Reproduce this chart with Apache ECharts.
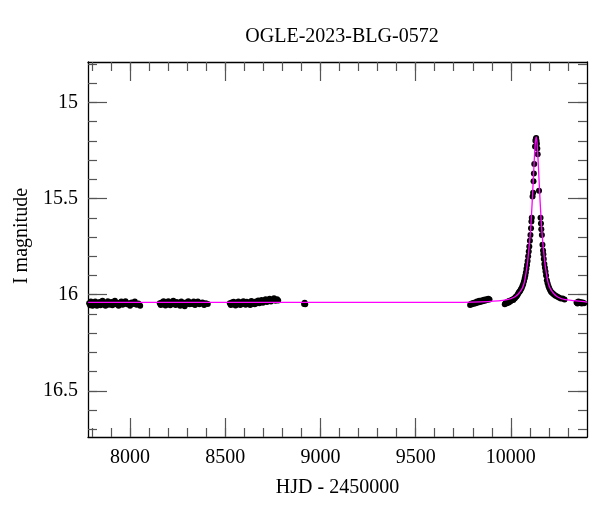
<!DOCTYPE html>
<html>
<head>
<meta charset="utf-8">
<script src="https://cdn.jsdelivr.net/npm/echarts@6/dist/echarts.min.js"></script>
<style>html,body{margin:0;padding:0;background:#fff}#c{width:600px;height:512px}</style>
</head>
<body>
<div id="c"></div>
<script>
// ---- data (HJD-2450000, I mag) ----
var season1 = [[7785,16.045],[7790,16.055],[7794,16.036],[7799,16.05],[7803,16.058],[7808,16.042],[7812,16.052],[7817,16.035],[7821,16.048],[7826,16.058],[7830,16.044],[7835,16.05],[7840,16.038],[7845,16.055],[7850,16.046],[7855,16.032],[7860,16.05],[7866,16.043],[7871,16.057],[7877,16.047],[7883,16.034],[7889,16.052],[7895,16.045],[7901,16.038],[7907,16.055],[7913,16.048],[7920,16.032],[7926,16.05],[7933,16.042],[7940,16.058],[7947,16.045],[7954,16.036],[7961,16.052],[7968,16.043],[7976,16.034],[7984,16.05],[7992,16.045],[8000,16.058],[8008,16.04],[8016,16.048],[8025,16.036],[8034,16.052],[8044,16.046],[8053,16.057]];
var season2 = [[8156,16.045],[8161,16.054],[8166,16.04],[8171,16.05],[8176,16.034],[8181,16.047],[8186,16.056],[8191,16.042],[8196,16.05],[8201,16.034],[8206,16.046],[8211,16.055],[8216,16.04],[8221,16.048],[8227,16.032],[8233,16.045],[8239,16.053],[8245,16.038],[8251,16.047],[8257,16.043],[8263,16.057],[8269,16.035],[8275,16.05],[8281,16.044],[8287,16.06],[8293,16.04],[8299,16.047],[8306,16.034],[8313,16.05],[8320,16.042],[8327,16.048],[8334,16.036],[8341,16.053],[8348,16.043],[8356,16.035],[8364,16.05],[8372,16.045],[8380,16.04],[8389,16.053],[8398,16.044],[8408,16.048]];
var season3 = [[8524,16.045],[8529,16.053],[8534,16.04],[8539,16.05],[8544,16.037],[8549,16.047],[8554,16.056],[8559,16.042],[8564,16.05],[8569,16.035],[8574,16.046],[8579,16.054],[8584,16.04],[8589,16.048],[8595,16.034],[8601,16.045],[8607,16.052],[8613,16.037],[8619,16.046],[8625,16.042],[8631,16.053],[8637,16.033],[8643,16.047],[8649,16.04],[8655,16.05],[8661,16.035],[8667,16.044],[8673,16.03],[8679,16.045],[8685,16.037],[8691,16.027],[8698,16.042],[8705,16.031],[8712,16.024],[8719,16.038],[8726,16.029],[8733,16.021],[8740,16.035],[8748,16.027],[8756,16.019],[8764,16.032],[8772,16.024],[8778,16.03]];
var season4 = [[8914,16.048],[8917,16.042],[8920,16.05]];
var season5 = [[9786,16.053],[9791,16.047],[9796,16.05],[9801,16.043],[9806,16.047],[9811,16.04],[9816,16.044],[9822,16.036],[9828,16.041],[9834,16.032],[9840,16.038],[9846,16.03],[9852,16.034],[9858,16.026],[9864,16.031],[9870,16.024],[9876,16.028],[9882,16.021],[9888,16.025]];
var season6 = [[9968,16.05],[9972,16.045],[9976,16.04],[9980,16.044],[9985,16.035],[9989,16.04],[9993,16.032],[9997,16.036],[10001,16.03],[10005,16.028],[10009,16.025],[10013,16.027],[10017,16.02],[10021,16.018],[10025,16.012],[10029,16.01],[10033,16.004],[10037,15.998],[10041,15.99],[10045,15.985],[10049,15.98],[10053,15.972],[10057,15.965],[10061,15.955],[10065,15.945],[10069,15.93],[10073,15.915],[10076,15.9],[10079,15.885],[10082,15.865],[10085,15.845],[10088,15.825],[10091,15.8],[10094,15.775],[10097,15.75],[10100,15.72],[10103,15.69],[10106,15.655],[10108,15.62],[10110,15.6],[10114,15.49],[10117,15.47],[10119,15.41],[10121,15.37],[10123,15.32],[10127,15.23],[10129,15.2],[10131,15.19],[10133,15.185],[10135,15.2],[10137,15.215],[10139,15.24],[10141,15.27],[10148,15.46],[10156,15.6],[10158,15.63],[10160,15.66],[10163,15.69],[10166,15.74],[10169,15.77],[10171,15.79],[10173,15.815],[10176,15.84],[10179,15.86],[10182,15.88],[10185,15.9],[10189,15.925],[10193,15.94],[10197,15.955],[10201,15.965],[10206,15.975],[10211,15.985],[10216,15.99],[10222,15.995],[10228,16.0],[10235,16.005],[10243,16.01],[10252,16.015],[10262,16.02],[10272,16.02],[10282,16.025],[10345,16.04],[10350,16.046],[10355,16.035],[10360,16.043],[10366,16.038],[10372,16.046],[10378,16.04],[10385,16.044]];
var model = [[7780,16.04],[9700,16.04],[9880,16.036],[9980,16.026],[10020,16.012],[10040,15.995],[10055,15.975],[10065,15.955],[10073,15.925],[10080,15.885],[10088,15.83],[10093,15.78],[10098,15.73],[10103,15.67],[10107,15.61],[10112,15.52],[10116,15.44],[10120,15.36],[10124,15.28],[10128,15.215],[10131,15.19],[10133,15.18],[10135,15.19],[10138,15.215],[10142,15.28],[10146,15.36],[10150,15.44],[10154,15.52],[10159,15.61],[10163,15.67],[10168,15.73],[10173,15.78],[10178,15.83],[10186,15.885],[10193,15.925],[10201,15.955],[10211,15.975],[10226,15.995],[10246,16.012],[10286,16.026],[10386,16.036],[10400,16.04]];
var xMajor = [8000, 8500, 9000, 9500, 10000];
var yMajor = [15, 15.5, 16, 16.5];
var titleText = 'OGLE-2023-BLG-0572';
var xName = 'HJD - 2450000';
var yName = 'I magnitude';

// ---- ticks ----
var xMinor = [];
for (var v = 7800; v <= 10300; v += 100) xMinor.push(v);
var yMinor = [];
for (var k = 148; k <= 167; k++) yMinor.push(k / 10);

var XMIN = 7779, XMAX = 10400, YMIN = 14.79, YMAX = 16.74;
var FONT = 'Liberation Serif';
var FS = 20;
var tickCol = '#555';

function xAx(pos, vals, len, showLine, labels) {
  return {
    type: 'value', position: pos, min: XMIN, max: XMAX,
    axisLine: { show: showLine, onZero: false, lineStyle: { color: '#000', width: 1.3 } },
    axisTick: { show: true, inside: true, length: len, customValues: vals, lineStyle: { color: tickCol, width: 1.2 } },
    axisLabel: labels ? { show: true, customValues: xMajor, formatter: function (v) { return String(v); },
      color: '#000', fontFamily: FONT, fontSize: FS, margin: 11 } : { show: false },
    splitLine: { show: false },
    name: labels ? xName : '', nameLocation: 'middle', nameGap: 41,
    nameTextStyle: { color: '#000', fontFamily: FONT, fontSize: FS }
  };
}
function yAx(pos, vals, len, showLine, labels) {
  return {
    type: 'value', position: pos, min: YMIN, max: YMAX, inverse: true,
    axisLine: { show: showLine, onZero: false, lineStyle: { color: '#000', width: 1.3 } },
    axisTick: { show: true, inside: true, length: len, customValues: vals, lineStyle: { color: tickCol, width: 1.2 } },
    axisLabel: labels ? { show: true, customValues: yMajor, formatter: function (v) { return String(v); },
      color: '#000', fontFamily: FONT, fontSize: FS, margin: 10 } : { show: false },
    splitLine: { show: false }
  };
}

var chart = echarts.init(document.getElementById('c'), null, { renderer: 'canvas' });
var ptStyle = { color: '#000', opacity: 1 };
function sc(d) {
  return { type: 'scatter', data: d, symbol: 'circle', symbolSize: 6, itemStyle: ptStyle, z: 2, animation: false };
}
chart.setOption({
  animation: false,
  title: { text: titleText, left: 337, top: 22, textAlign: 'center',
    textStyle: { fontFamily: FONT, fontSize: FS, fontWeight: 'normal', color: '#000' } },
  grid: { left: 88, right: 13, top: 62, bottom: 75, containLabel: false },
  xAxis: [
    xAx('bottom', xMajor, 19, true, true),
    xAx('bottom', xMinor, 9, false, false),
    xAx('top', xMajor, 19, true, false),
    xAx('top', xMinor, 9, false, false)
  ],
  yAxis: [
    yAx('left', yMajor, 19, true, true),
    yAx('left', yMinor, 9, false, false),
    yAx('right', yMajor, 19, true, false),
    yAx('right', yMinor, 9, false, false)
  ],
  graphic: [{
    type: 'text', x: 22, y: 236, rotation: Math.PI / 2,
    style: { text: yName, font: FS + 'px "Liberation Serif"', fill: '#000', align: 'center', verticalAlign: 'middle' }
  }],
  series: [
    sc(season1), sc(season2), sc(season3), sc(season4), sc(season5), sc(season6),
    { type: 'line', data: model, showSymbol: false, symbol: 'none', smooth: 0.3,
      lineStyle: { color: '#ff00ff', width: 1.3 }, z: 3, animation: false }
  ]
});
</script>
</body>
</html>
